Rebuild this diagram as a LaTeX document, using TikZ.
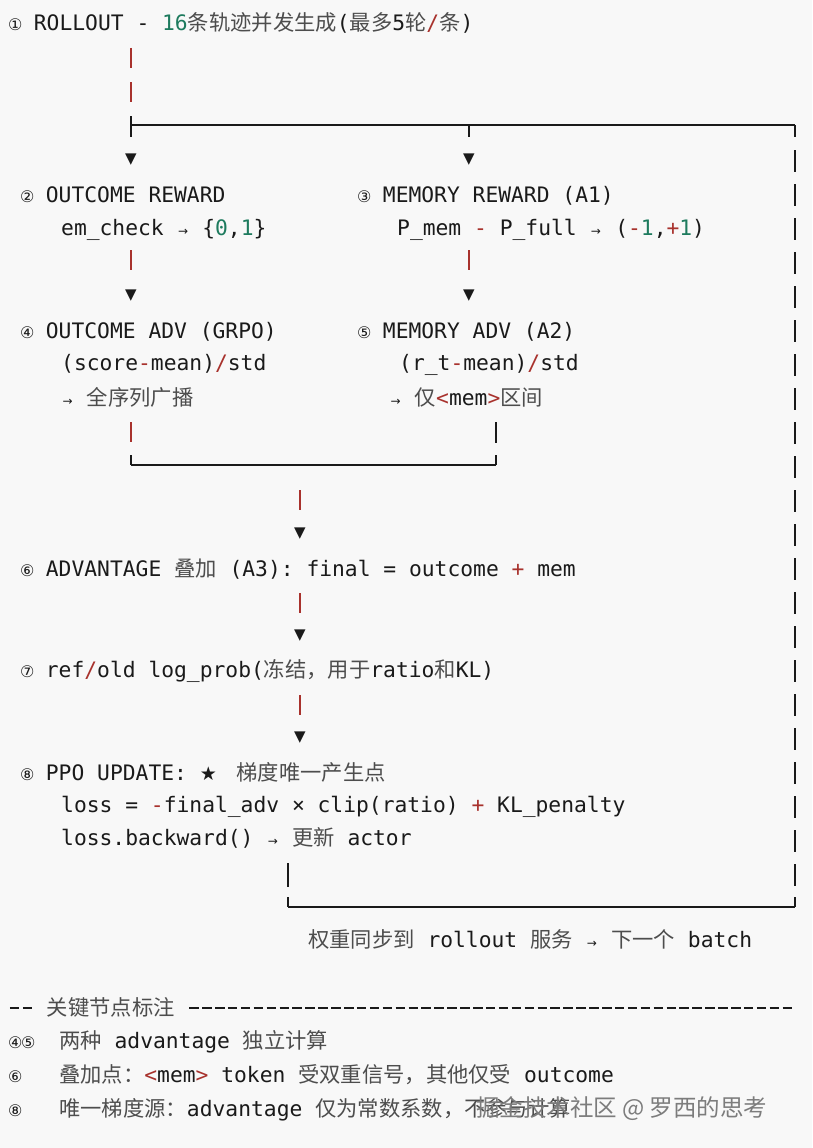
\documentclass[tikz,border=0pt]{standalone}
\usepackage{fontspec}
\setmonofont{DejaVu Sans Mono}
\newfontfamily\cjk{Noto Sans CJK SC}
\newfontfamily\symf{DejaVu Sans}
\usepackage{tikz}
\definecolor{bgc}{HTML}{F8F8F8}
\definecolor{inkc}{HTML}{1A1A1A}
\definecolor{opc}{HTML}{A8322D}
\definecolor{numc}{HTML}{1E7B5E}
\definecolor{zhc}{HTML}{4D4D4D}
\definecolor{wmc}{HTML}{7C7C7C}
\newcommand\zh[1]{{\cjk\color{zhc}#1}}
\newcommand\opr[1]{\textcolor{opc}{#1}}
\newcommand\dig[1]{\textcolor{numc}{#1}}
\newcommand\circn[1]{\makebox[12.9pt][l]{\symf\fontsize{16}{16}\selectfont #1}}
\newcommand\rarr{\makebox[12.9pt]{\symf\fontsize{12}{12}\selectfont →}}
\newcommand\stargl{\makebox[24pt][l]{\symf\fontsize{19}{19}\selectfont ★}}
\newcommand\dsh{\makebox[12.9pt]{\rule[6.5pt]{9.5pt}{1.2pt}}}

\begin{document}
\begin{tikzpicture}[x=1pt,y=-1pt,
    ln/.style={anchor=base west,inner sep=0pt,text=inkc,font=\ttfamily\fontsize{21.3}{25}\selectfont},
    tip/.style={inner sep=0pt,text=inkc,font=\symf\fontsize{15}{15}\selectfont},
    redbar/.style={draw=opc,line width=1.3pt,dash pattern=on 20pt off 14pt},
    vbar/.style={draw=inkc,line width=1.3pt},
    hbar/.style={draw=inkc,line width=2.2pt},
    colbar/.style={draw=inkc,line width=1.3pt,dash pattern=on 22pt off 12pt}]
  \fill[bgc] (0,0) rectangle (812,1148);
  \useasboundingbox (0,0) rectangle (812,1148);

  % text lines
  \node[ln] (roll) at (8,31) {\circn{①} ROLLOUT - \dig{16}\zh{条轨迹并发生成}(\zh{最多}5\zh{轮}\opr{/}\zh{条})};
  \node[ln] (orw) at (20,202) {\circn{②} OUTCOME REWARD};
  \node[ln] (orwf) at (61,235) {em\_check \rarr{} \{\dig{0},\dig{1}\}};
  \node[ln] (mrw) at (357,202) {\circn{③} MEMORY REWARD (A1)};
  \node[ln] (mrwf) at (397,235) {P\_mem \opr{-} P\_full \rarr{} (\opr{-}\dig{1},\opr{+}\dig{1})};
  \node[ln] (oadv) at (20,338) {\circn{④} OUTCOME ADV (GRPO)};
  \node[ln] (oadvf) at (61,370) {(score\opr{-}mean)\opr{/}std};
  \node[ln] (oadvn) at (61,405) {\rarr{} \zh{全序列广播}};
  \node[ln] (madv) at (357,338) {\circn{⑤} MEMORY ADV (A2)};
  \node[ln] (madvf) at (399,370) {(r\_t\opr{-}mean)\opr{/}std};
  \node[ln] (madvn) at (389,405) {\rarr{} \zh{仅}\opr{<}mem\opr{>}\zh{区间}};
  \node[ln] (sum) at (20,576) {\circn{⑥} ADVANTAGE \zh{叠加} (A3): final = outcome \opr{+} mem};
  \node[ln] (lp) at (20,677) {\circn{⑦} ref\opr{/}old log\_prob(\zh{冻结，用于}ratio\zh{和}KL)};
  \node[ln] (ppo) at (20,780) {\circn{⑧} PPO UPDATE: \stargl{} \zh{梯度唯一产生点}};
  \node[ln] (loss) at (61,812) {loss = \opr{-}final\_adv × clip(ratio) \opr{+} KL\_penalty};
  \node[ln] (bwd) at (61,845) {loss.backward() \rarr{} \zh{更新} actor};
  \node[ln] (sync) at (308,947) {\zh{权重同步到} rollout \zh{服务} \rarr{} \zh{下一个} batch};

  % legend
  \node[ln] (keyh) at (8,1015) {\dsh\dsh\makebox[12.9pt]{}\zh{关键节点标注} \foreach \i in {1,...,47}{\dsh}};
  \node[ln] (key1) at (8,1048) {\makebox[51pt][l]{\circn{④}\circn{⑤}}\zh{两种} advantage \zh{独立计算}};
  \node[ln] (key2) at (8,1082) {\makebox[51pt][l]{\circn{⑥}}\zh{叠加点：}\opr{<}mem\opr{>} token \zh{受双重信号，其他仅受} outcome};
  \node[ln] (key3) at (8,1116) {\makebox[51pt][l]{\circn{⑧}}\zh{唯一梯度源：}advantage \zh{仅为常数系数，不参与计算}};
  \node[anchor=base west,inner sep=0pt,text=wmc,font=\cjk\fontsize{23.5}{26}\selectfont] (wm) at (476,1116) {掘金技术社区 @ 罗西的思考};

  % arrow heads
  \foreach \n/\x/\y in {t2/131/160, t3/469/160, t4/131/296, t5/469/296, t6/300/534, t7/300/636, t8/300/738}
    \node[tip] (\n) at (\x,\y) {▼};

  % connector points
  \foreach \n/\x/\y in {a0/131/48, a1/131/102, fk/131/116, fkb/131/137, fl/131/125, fm/469/125, fmb/469/137,
      fr/795/125, frb/795/137, cr0/795/150, cr1/795/887, b2a/131/250, b2b/131/272, b3a/469/250, b3b/469/272,
      b4a/131/422, b4b/131/442, b5a/496/422, b5b/496/443, j4/131/455, j4b/131/465, j5/496/455, j5b/496/465,
      c6a/300/490, c6b/300/510, c7a/300/593, c7b/300/613, c8a/300/695, c8b/300/715,
      u0/288/863, u1/288/887, u2/288/897, u3/288/907, u4/795/907, u5/795/897}
    \coordinate (\n) at (\x,\y);

  % red stems
  \draw[redbar] (a0) -- (a1);
  \draw[redbar] (b2a) -- (b2b);
  \draw[redbar] (b3a) -- (b3b);
  \draw[redbar] (b4a) -- (b4b);
  \draw[redbar] (c6a) -- (c6b);
  \draw[redbar] (c7a) -- (c7b);
  \draw[redbar] (c8a) -- (c8b);

  % fork after rollout
  \draw[vbar] (fk) -- (fkb);
  \draw[hbar] (fl) -- (fr);
  \draw[vbar] (fm) -- (fmb);
  \draw[vbar] (fr) -- (frb);
  \draw[colbar] (cr0) -- (cr1);

  % join of the two advantages
  \draw[vbar] (b5a) -- (b5b);
  \draw[vbar] (j4) -- (j4b);
  \draw[hbar] (j4b) -- (j5b);
  \draw[vbar] (j5) -- (j5b);

  % loop back
  \draw[vbar] (u0) -- (u1);
  \draw[vbar] (u2) -- (u3);
  \draw[hbar] (u3) -- (u4);
  \draw[vbar] (u5) -- (u4);
\end{tikzpicture}
\end{document}
